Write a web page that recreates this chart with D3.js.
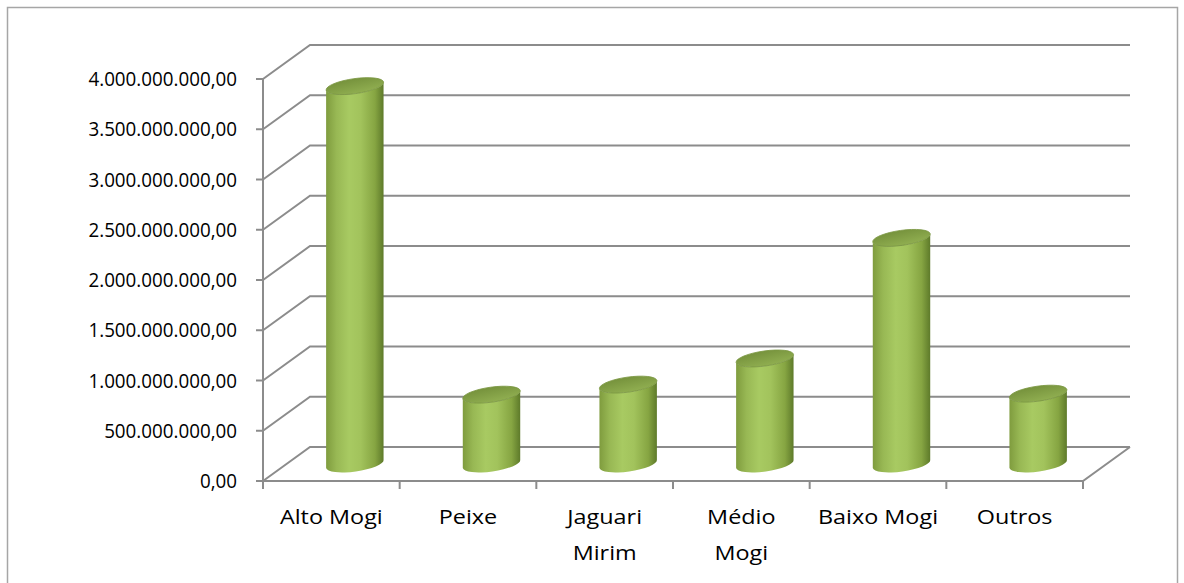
<!DOCTYPE html>
<html>
<head>
<meta charset="utf-8">
<script src="https://cdn.jsdelivr.net/npm/d3@7"></script>
<style>
  body { margin: 0; background: #fff; }
  text { font-family: "Open Sans", sans-serif; fill: #000; }
</style>
</head>
<body>
<div id="chart"></div>
<script>
// Data
const categories = ["Alto Mogi", "Peixe", "Jaguari Mirim", "Médio Mogi", "Baixo Mogi", "Outros"];
const categoryLines = [["Alto Mogi"], ["Peixe"], ["Jaguari", "Mirim"], ["Médio", "Mogi"], ["Baixo Mogi"], ["Outros"]];
const values = [3760000000, 690000000, 790000000, 1050000000, 2250000000, 700000000];
const yTicks = [0, 500000000, 1000000000, 1500000000, 2000000000, 2500000000, 3000000000, 3500000000, 4000000000];

const width = 1184;
const height = 583;

// pt-BR style number format
const locale = d3.formatLocale({ decimal: ",", thousands: ".", grouping: [3], currency: ["R$", ""] });
const fmt = locale.format(",.2f");

const svg = d3
  .select("#chart")
  .append("svg")
  .attr("width", width)
  .attr("height", height);

// chart border
svg
  .append("rect")
  .attr("x", 7.5)
  .attr("y", 7.5)
  .attr("width", 1170)
  .attr("height", 620)
  .style("fill", "#fff")
  .style("stroke", "#a6a6a6")
  .style("stroke-width", 1.5);

// 3D layout: front plane and depth offset
const left = 263, right = 1083;
const depthX = 47, depthY = -34;
const x = d3.scaleBand().domain(categories).range([left, right]);
const y = d3.scaleLinear().domain([0, 4000000000]).range([481, 79]);

const gridColor = "#8c8c8c";
const grid = svg.append("g");

// side wall diagonals + back wall horizontals
yTicks.forEach((t) => {
  grid
    .append("polyline")
    .attr("points", `${left},${y(t)} ${left + depthX},${y(t) + depthY} ${right + depthX},${y(t) + depthY}`)
    .style("fill", "none")
    .style("stroke", gridColor)
    .style("stroke-width", 2);
});

// floor: front edge and right edge
grid
  .append("polyline")
  .attr("points", `${left},${y(0)} ${right},${y(0)} ${right + depthX},${y(0) + depthY}`)
  .style("fill", "none")
  .style("stroke", gridColor)
  .style("stroke-width", 2);

// vertical axis line
grid
  .append("line")
  .attr("x1", left)
  .attr("x2", left)
  .attr("y1", y(4000000000))
  .attr("y2", y(0) + 8)
  .style("stroke", gridColor)
  .style("stroke-width", 2);

// y ticks
grid
  .selectAll(".ytick")
  .data(yTicks)
  .enter()
  .append("line")
  .attr("x1", left - 7)
  .attr("x2", left)
  .attr("y1", (d) => y(d))
  .attr("y2", (d) => y(d))
  .style("stroke", gridColor)
  .style("stroke-width", 2);

// x ticks at band boundaries
const bounds = categories.map((c) => x(c) + x.bandwidth());
grid
  .selectAll(".xtick")
  .data(bounds)
  .enter()
  .append("line")
  .attr("x1", (d) => d)
  .attr("x2", (d) => d)
  .attr("y1", y(0))
  .attr("y2", y(0) + 8)
  .style("stroke", gridColor)
  .style("stroke-width", 2);

// y labels
svg
  .selectAll(".ylabel")
  .data(yTicks)
  .enter()
  .append("text")
  .attr("transform", (d) => `translate(237,${y(d) + 7}) scale(0.94,1)`)
  .attr("text-anchor", "end")
  .style("font-size", "20px")
  .text((d) => fmt(d));

// x labels
const xl = svg
  .selectAll(".xlabel")
  .data(categories)
  .enter()
  .append("text")
  .attr("transform", (d) => `translate(${x(d) + x.bandwidth() / 2},524) scale(1.17,1)`)
  .attr("text-anchor", "middle")
  .style("font-size", "20px");
xl.selectAll("tspan")
  .data((d, i) => categoryLines[i])
  .enter()
  .append("tspan")
  .attr("x", 0)
  .attr("dy", (d, i) => (i === 0 ? 0 : 36))
  .text((d) => d);

// gradients for cylinders
const defs = svg.append("defs");
const bodyGrad = defs
  .append("linearGradient")
  .attr("id", "cylBody")
  .attr("x1", "0%")
  .attr("x2", "100%");
[
  ["0%", "#7f9c3e"],
  ["18%", "#98b854"],
  ["40%", "#a8ca62"],
  ["60%", "#a2c35c"],
  ["85%", "#86a542"],
  ["100%", "#5e7a2a"],
].forEach(([o, c]) => bodyGrad.append("stop").attr("offset", o).attr("stop-color", c));

const topGrad = defs
  .append("linearGradient")
  .attr("id", "cylTop")
  .attr("x1", "0%")
  .attr("y1", "0%")
  .attr("x2", "30%")
  .attr("y2", "100%");
[
  ["0%", "#738f3a"],
  ["100%", "#8eac4f"],
].forEach(([o, c]) => topGrad.append("stop").attr("offset", o).attr("stop-color", c));

// cylinders
const rx = 29, ry = 7.5, tilt = -8;
const ca = Math.cos((tilt * Math.PI) / 180), sa = Math.sin((tilt * Math.PI) / 180);
const cyl = svg
  .selectAll(".cyl")
  .data(values)
  .enter()
  .append("g")
  .attr("class", "cyl");

cyl.each(function (v, i) {
  const g = d3.select(this);
  const cx = x(categories[i]) + x.bandwidth() / 2 + depthX / 2;
  const yt = y(v) + depthY / 2;
  const yb = y(0) + depthY / 2;
  const lx = cx - rx * ca, rxp = cx + rx * ca;
  const ldy = -rx * sa, rdy = rx * sa;
  g.append("path")
    .attr(
      "d",
      `M${lx},${yt + ldy} L${lx},${yb + ldy} A${rx},${ry} ${tilt} 0 0 ${rxp},${yb + rdy} L${rxp},${yt + rdy} A${rx},${ry} ${tilt} 0 1 ${lx},${yt + ldy} Z`
    )
    .style("fill", "url(#cylBody)");
  g.append("ellipse")
    .attr("cx", 0)
    .attr("cy", 0)
    .attr("rx", rx)
    .attr("ry", ry)
    .attr("transform", `translate(${cx},${yt}) rotate(${tilt})`)
    .style("fill", "url(#cylTop)")
    .style("stroke", "#7b9742")
    .style("stroke-width", 0.8);
});
</script>
</body>
</html>
